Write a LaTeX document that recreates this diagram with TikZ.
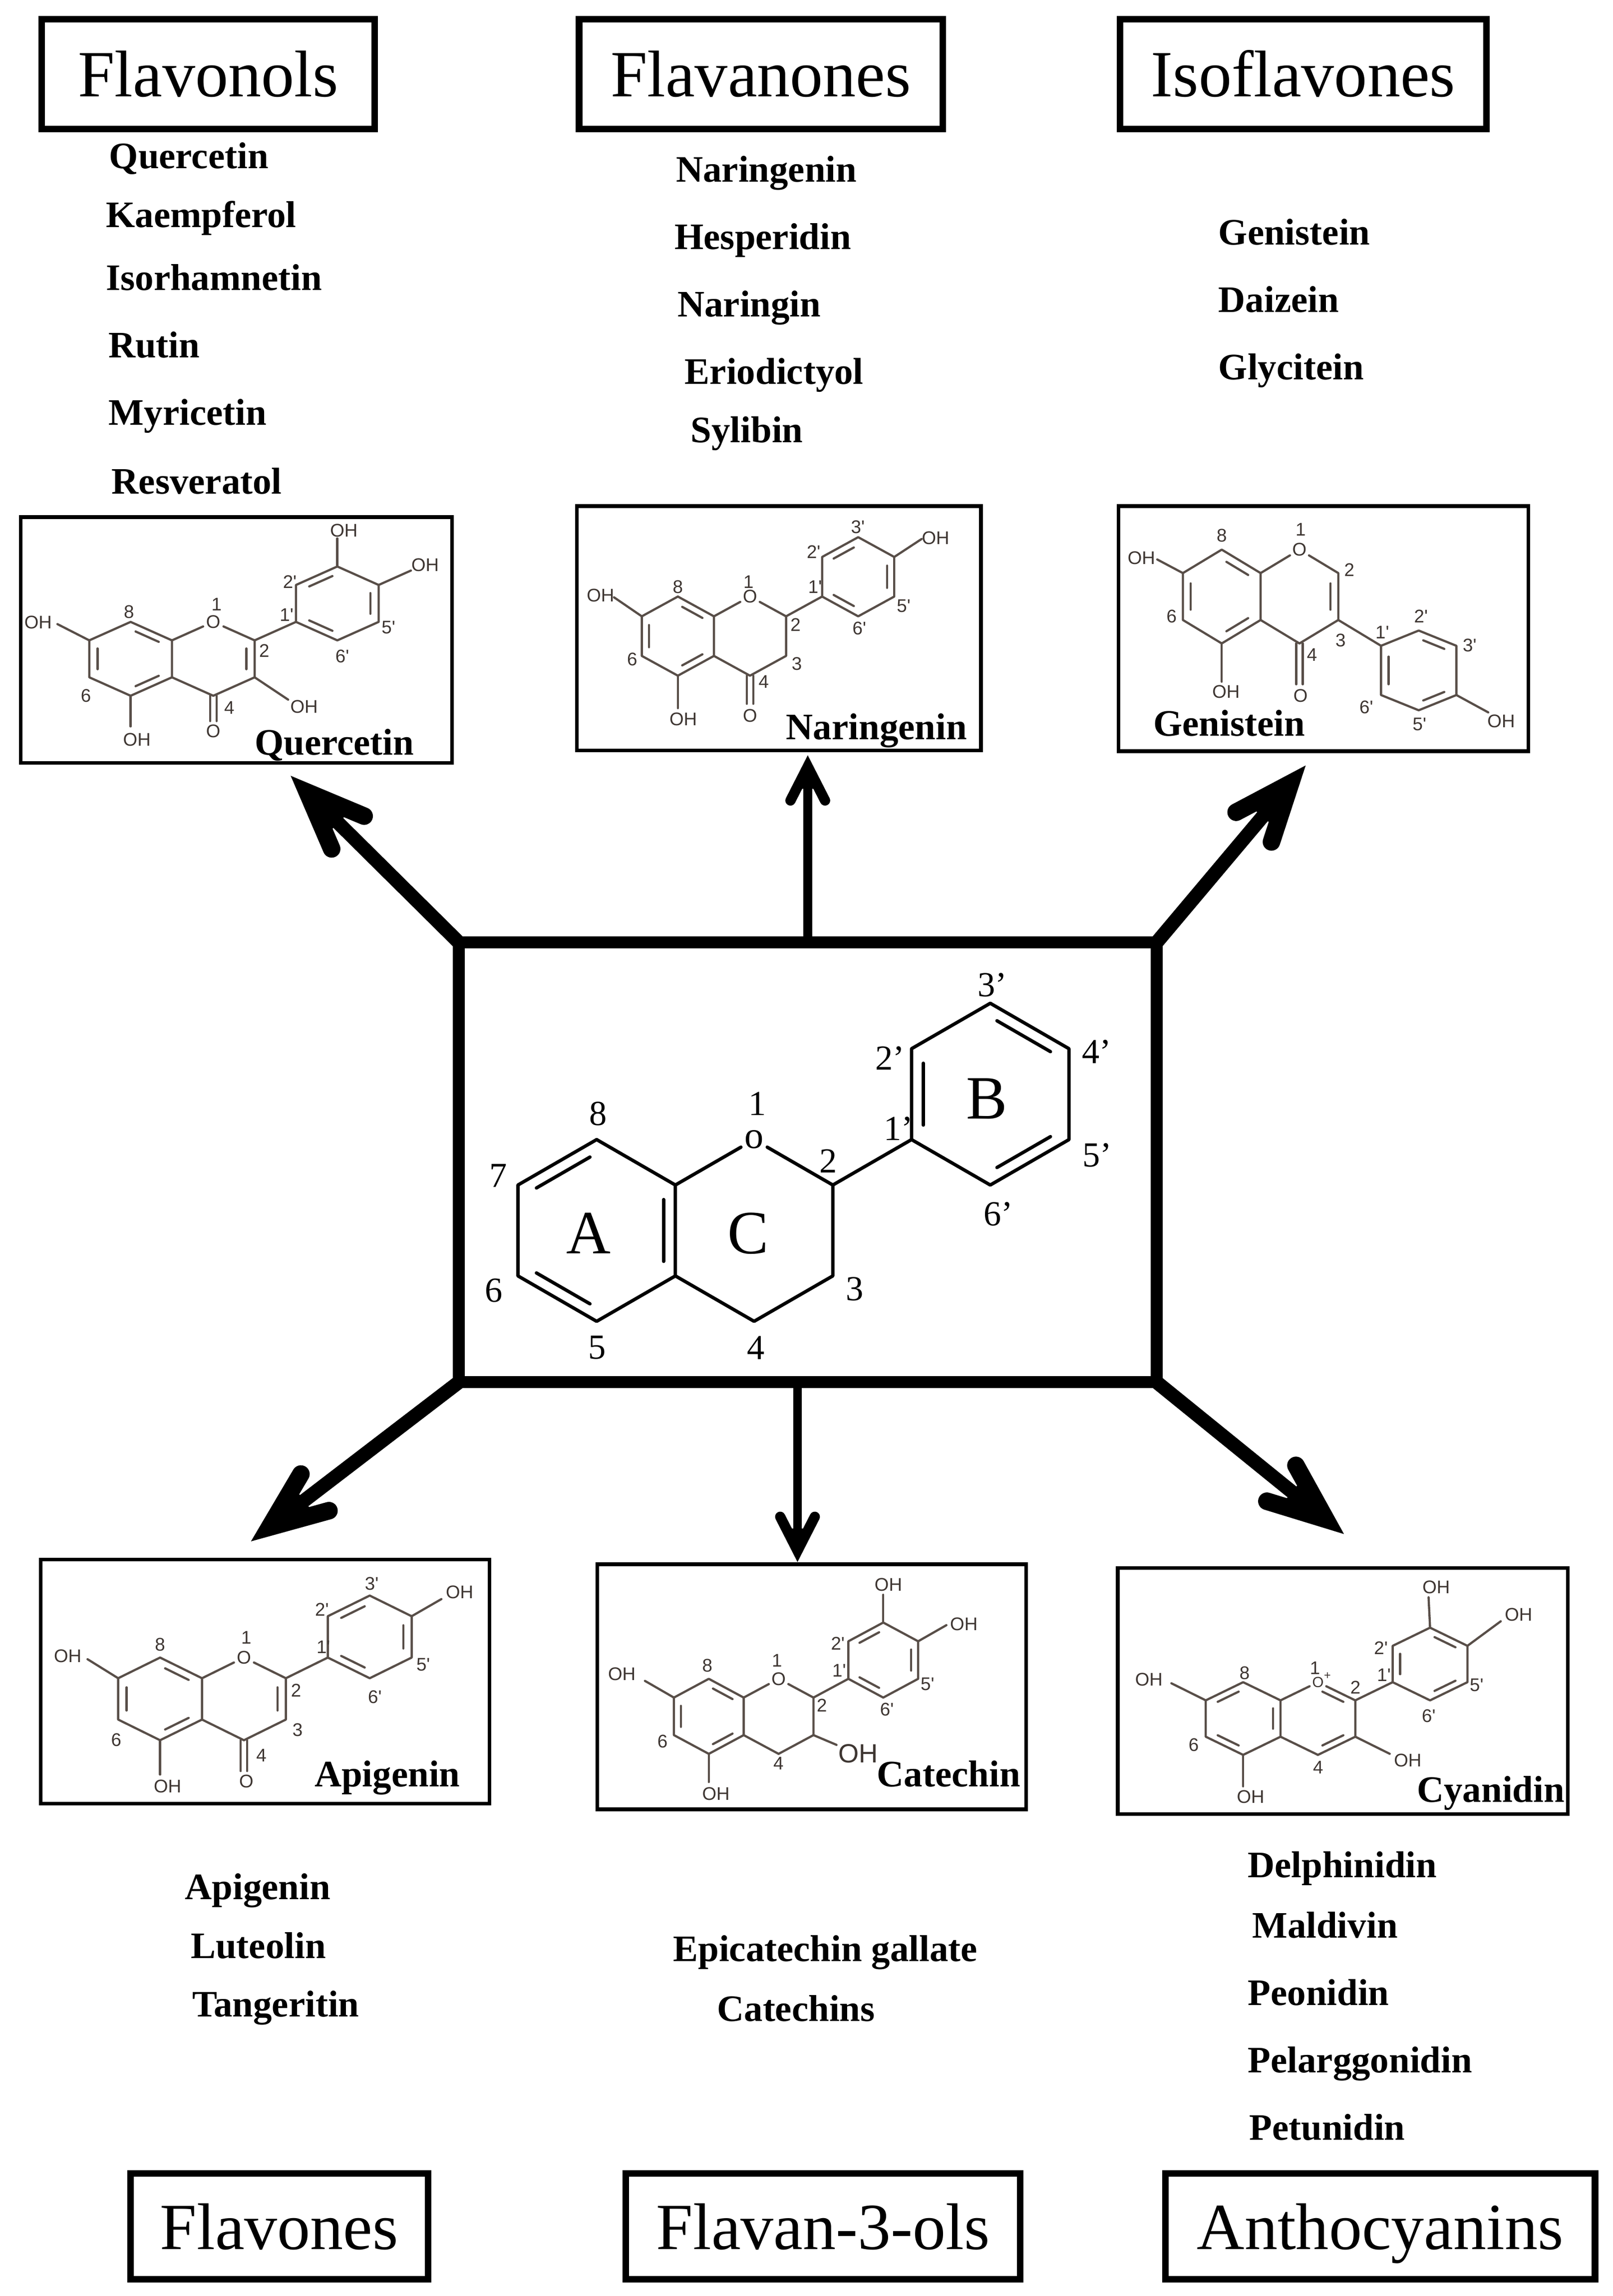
\documentclass[tikz,border=0pt]{standalone}
\usepackage{fontspec}
\setmainfont{Liberation Serif}
\newfontfamily\chemf{Liberation Sans}
\usetikzlibrary{calc}
\definecolor{bondcol}{RGB}{88,78,72}
\definecolor{labcol}{RGB}{62,54,50}

\newcommand{\skel}{%
 \coordinate (A8) at (0,-2); \coordinate (A8a) at (1,-1); \coordinate (A4a) at (1,1);
 \coordinate (A5) at (0,2); \coordinate (A6) at (-1,1); \coordinate (A7) at (-1,-1);
 \coordinate (O1) at (2,-2); \coordinate (C2) at (3,-1); \coordinate (C3) at (3,1);
 \coordinate (C4) at (2,2); \coordinate (cA) at (0,0); \coordinate (cC) at (2,0);}
\newcommand{\ringBup}{%
 \coordinate (B1) at (4,-2); \coordinate (B2) at (4,-4); \coordinate (B3) at (5,-5);
 \coordinate (B4) at (6,-4); \coordinate (B5) at (6,-2); \coordinate (B6) at (5,-1);
 \coordinate (cB) at (5,-3);}
\newcommand{\dbl}[3]{\draw[bond] ($0.68*(#1)+0.12*(#2)+0.2*(#3)$) -- ($0.12*(#1)+0.68*(#2)+0.2*(#3)$);}
\newcommand{\dblc}[3]{\draw[cbond] ($0.765*(#1)+0.085*(#2)+0.15*(#3)$) -- ($0.085*(#1)+0.765*(#2)+0.15*(#3)$);}
\newcommand{\lab}[4]{\node[lbl] (#1) at (#2,#3) {#4};}
\newcommand{\clab}[4]{\node[clbl] (#1) at (#2,#3) {#4};}
% tail, tip, shaft lw, barb lw, setback, barb length, half angle, fill length
\newcommand{\fatarrow}[8]{%
 \coordinate (aP) at ($(#2)!#5pt!(#1)$);
 \draw[line width=#3pt, line cap=butt] (#1) -- (aP);
 \fill ($(aP)!#8pt!#7:(#1)$) -- (aP) -- ($(aP)!#8pt!-#7:(#1)$) -- cycle;
 \draw[line width=#4pt, line cap=round, line join=miter] ($(aP)!#6pt!#7:(#1)$) -- (aP) -- ($(aP)!#6pt!-#7:(#1)$);}

\begin{document}
\begin{tikzpicture}[x=1pt,y=-1pt,
 bond/.style={draw=bondcol, line width=1.5pt, line cap=round, line join=round},
 cbond/.style={draw=black, line width=2.3pt, line cap=round, line join=round},
 atom/.style={font=\chemf\fontsize{12.5}{14}\selectfont, text=labcol, inner sep=0.6pt, circle},
 lbl/.style={font=\chemf\fontsize{12.5}{14}\selectfont, text=labcol, inner sep=0pt},
 lblbig/.style={font=\chemf\fontsize{18}{20}\selectfont, text=labcol, inner sep=0pt},
 clbl/.style={font=\fontsize{24}{26}\selectfont, inner sep=0pt},
 ringlet/.style={font=\fontsize{42}{44}\selectfont, inner sep=0pt},
 titlebox/.style={draw, line width=4.5pt, inner sep=0pt, outer sep=0pt, font=\fontsize{45}{50}\selectfont, text height=31pt, text depth=0pt, minimum height=75pt},
 molbox/.style={draw, line width=2.5pt, inner sep=0pt, outer sep=0pt},
 item/.style={font=\bfseries\fontsize{25.5}{30}\selectfont, anchor=base west, inner sep=0pt},
]
\useasboundingbox (0,0) rectangle (1100,1566.5);
\fill[white] (0,0) rectangle (1100,1566.5);

% ---------- title boxes ----------
\node[titlebox, minimum width=227pt] (tFlavonols) at (142,50.5) {Flavonols};
\node[titlebox, minimum width=248pt] (tFlavanones) at (519,50.5) {Flavanones};
\node[titlebox, minimum width=250pt] (tIsoflavones) at (889,50.5) {Isoflavones};
\node[titlebox, minimum width=203pt, minimum height=72pt] (tFlavones) at (190.5,1519) {Flavones};
\node[titlebox, minimum width=269pt, minimum height=72pt] (tFlavanols) at (561.5,1519) {Flavan-3-ols};
\node[titlebox, minimum width=293pt, minimum height=72pt] (tAntho) at (941.5,1519) {Anthocyanins};

% ---------- lists ----------
\node[item] (l11) at (74.3,115) {Quercetin};
\node[item] (l12) at (72.1,155) {Kaempferol};
\node[item] (l13) at (72.1,198) {Isorhamnetin};
\node[item] (l14) at (73.8,244) {Rutin};
\node[item] (l15) at (74,290) {Myricetin};
\node[item] (l16) at (76,337) {Resveratol};

\node[item] (l21) at (461,124) {Naringenin};
\node[item] (l22) at (460,170) {Hesperidin};
\node[item] (l23) at (462,216) {Naringin};
\node[item] (l24) at (467,262) {Eriodictyol};
\node[item] (l25) at (471,302) {Sylibin};

\node[item] (l31) at (831,167) {Genistein};
\node[item] (l32) at (831,213) {Daizein};
\node[item] (l33) at (831,259) {Glycitein};

\node[item] (l41) at (126,1296) {Apigenin};
\node[item] (l42) at (130,1336) {Luteolin};
\node[item] (l43) at (131,1376) {Tangeritin};

\node[item] (l51) at (459,1338) {Epicatechin gallate};
\node[item] (l52) at (489,1379) {Catechins};

\node[item] (l61) at (851,1281) {Delphinidin};
\node[item] (l62) at (854,1322) {Maldivin};
\node[item] (l63) at (851,1368) {Peonidin};
\node[item] (l64) at (851,1414) {Pelarggonidin};
\node[item] (l65) at (852,1460) {Petunidin};

% ---------- molecule boxes ----------
\node[molbox, minimum width=294.1pt, minimum height=167.8pt] (bQ) at (161.25,436.7) {};
\node[molbox, minimum width=275.7pt, minimum height=166.7pt] (bN) at (531.35,428.65) {};
\node[molbox, minimum width=279.5pt, minimum height=167.2pt] (bG) at (902.75,428.9) {};
\node[molbox, minimum width=306.2pt, minimum height=166.5pt] (bA) at (180.9,1147.25) {};
\node[molbox, minimum width=292.5pt, minimum height=167.2pt] (bC) at (553.75,1150.9) {};
\node[molbox, minimum width=307pt, minimum height=168pt] (bY) at (916,1153.8) {};

% ---------- central box ----------
\node[draw, line width=8pt, outer sep=0pt, inner sep=0pt, minimum width=476pt, minimum height=300pt] (core) at (551,793) {};

% ---------- Quercetin ----------
\begin{scope}[shift={(89.1,449.5)}, x={(28.2pt,0pt)}, y={(0pt,-12.6pt)}]
 \skel\ringBup
 \node[atom] (qO) at (O1) {O};
 \coordinate (Oe) at (2,3.37);
 \draw[bond] (A8) -- (A8a) -- (A4a) -- (A5) -- (A6) -- (A7) -- cycle;
 \draw[bond] (A8a) -- (qO) -- (C2) -- (C3) -- (C4) -- (A4a);
 \draw[bond] (C2) -- (B1);
 \draw[bond] (B1) -- (B2) -- (B3) -- (B4) -- (B5) -- (B6) -- cycle;
 \dbl{A8}{A8a}{cA} \dbl{A6}{A7}{cA} \dbl{A5}{A4a}{cA}
 \dbl{C2}{C3}{cC}
 \dbl{B2}{B3}{cB} \dbl{B4}{B5}{cB} \dbl{B6}{B1}{cB}
 \draw[bond] (A7) -- (-1.77,-1.88);
 \draw[bond] (A5) -- (0,3.66);
 \draw[bond] ([xshift=-2.2pt]C4) -- ([xshift=-2.2pt]Oe);
 \draw[bond] ([xshift=2.2pt]C4) -- ([xshift=2.2pt]Oe);
 \draw[bond] (C3) -- (3.81,2.21);
 \draw[bond] (B3) -- (5,-6.52);
 \draw[bond] (B4) -- (6.78,-4.78);
\end{scope}
\lab{qoh7}{26}{424.5}{OH}
\lab{qoh5}{93.4}{504.8}{OH}
\lab{qoh3}{207.4}{482.3}{OH}
\lab{qoh3b}{234.6}{361.9}{OH}
\lab{qoh4b}{290}{385.6}{OH}
\lab{qo4}{145.5}{498.7}{O}
\lab{qn8}{88}{417.3}{8}
\lab{qn1}{147.7}{412.4}{1}
\lab{qn2}{180.3}{444}{2}
\lab{qn1b}{195.5}{419.6}{1'}
\lab{qn2b}{197.7}{397.1}{2'}
\lab{qn5b}{265}{428.2}{5'}
\lab{qn6b}{233.5}{447.6}{6'}
\lab{qn6}{58.6}{474.5}{6}
\lab{qn4}{156.4}{483}{4}
\node[item] (qname) at (173.6,515) {Quercetin};

% ---------- Naringenin ----------
\begin{scope}[shift={(462.4,434)}, x={(24.6pt,0pt)}, y={(0pt,-13.5pt)}]
 \skel\ringBup
 \node[atom] (nO) at (O1) {O};
 \coordinate (Oe) at (2,3.42);
 \draw[bond] (A8) -- (A8a) -- (A4a) -- (A5) -- (A6) -- (A7) -- cycle;
 \draw[bond] (A8a) -- (nO) -- (C2) -- (C3) -- (C4) -- (A4a);
 \draw[bond] (C2) -- (B1);
 \draw[bond] (B1) -- (B2) -- (B3) -- (B4) -- (B5) -- (B6) -- cycle;
 \dbl{A8}{A8a}{cA} \dbl{A6}{A7}{cA} \dbl{A5}{A4a}{cA}
 \dbl{B2}{B3}{cB} \dbl{B4}{B5}{cB} \dbl{B6}{B1}{cB}
 \draw[bond] (A7) -- (-1.77,-1.96);
 \draw[bond] (A5) -- (0,3.64);
 \draw[bond] ([xshift=-2.2pt]C4) -- ([xshift=-2.2pt]Oe);
 \draw[bond] ([xshift=2.2pt]C4) -- ([xshift=2.2pt]Oe);
 \draw[bond] (B4) -- (6.76,-4.91);
\end{scope}
\lab{noh7}{409.6}{406.3}{OH}
\lab{noh5}{466.1}{490.8}{OH}
\lab{noh4b}{638.2}{367.1}{OH}
\lab{no4}{511.6}{488.4}{O}
\lab{nn8}{462.4}{400.5}{8}
\lab{nn1}{510.6}{397}{1}
\lab{nn2}{542.7}{426.3}{2}
\lab{nn3}{543.5}{452.7}{3}
\lab{nn4}{521}{465}{4}
\lab{nn6}{431.2}{449.8}{6}
\lab{nn1b}{556}{400.5}{1'}
\lab{nn2b}{555}{376.5}{2'}
\lab{nn3b}{585.2}{359.5}{3'}
\lab{nn5b}{616.4}{413.4}{5'}
\lab{nn6b}{586.2}{428.7}{6'}
\node[item] (nname) at (536.1,504.5) {Naringenin};

% ---------- Genistein ----------
\begin{scope}[shift={(833.4,407)}, x={(26.5pt,0pt)}, y={(0pt,-16pt)}]
 \skel
 \coordinate (B1) at (4.1,2.1); \coordinate (B2) at (5.07,1.45); \coordinate (B3) at (6.04,2.1);
 \coordinate (B4) at (6.04,4.2); \coordinate (B5) at (5.07,4.85); \coordinate (B6) at (4.1,4.2);
 \coordinate (cB) at (5.07,3.15);
 \node[atom] (gO) at (O1) {O};
 \coordinate (Oe) at (2,3.74);
 \draw[bond] (A8) -- (A8a) -- (A4a) -- (A5) -- (A6) -- (A7) -- cycle;
 \draw[bond] (A8a) -- (gO) -- (C2) -- (C3) -- (C4) -- (A4a);
 \draw[bond] (C3) -- (B1);
 \draw[bond] (B1) -- (B2) -- (B3) -- (B4) -- (B5) -- (B6) -- cycle;
 \dbl{A8}{A8a}{cA} \dbl{A6}{A7}{cA} \dbl{A5}{A4a}{cA}
 \dbl{C2}{C3}{cC}
 \dbl{B2}{B3}{cB} \dbl{B4}{B5}{cB} \dbl{B6}{B1}{cB}
 \draw[bond] (A7) -- (-1.66,-1.58);
 \draw[bond] (A5) -- (0,3.63);
 \draw[bond] ([xshift=-2.2pt]C4) -- ([xshift=-2.2pt]Oe);
 \draw[bond] ([xshift=2.2pt]C4) -- ([xshift=2.2pt]Oe);
 \draw[bond] (B4) -- (6.86,4.94);
\end{scope}
\lab{goh7}{778.6}{380.6}{OH}
\lab{goh5}{836.3}{472}{OH}
\lab{goh4b}{1024}{492}{OH}
\lab{go4}{887.2}{474.5}{O}
\lab{gn8}{833.4}{365.3}{8}
\lab{gn1}{887.2}{361.2}{1}
\lab{gn2}{920.4}{388.8}{2}
\lab{gn3}{914.5}{436.9}{3}
\lab{gn4}{895}{446.9}{4}
\lab{gn6}{799.2}{420.5}{6}
\lab{gn1b}{942.9}{431.4}{1'}
\lab{gn2b}{969.3}{420.6}{2'}
\lab{gn3b}{1002.5}{440.4}{3'}
\lab{gn5b}{968.3}{494.2}{5'}
\lab{gn6b}{932}{482.6}{6'}
\node[item] (gname) at (786.5,502) {Genistein};

% ---------- Apigenin ----------
\begin{scope}[shift={(109.2,1159.1)}, x={(28.6pt,0pt)}, y={(0pt,-14.1pt)}]
 \skel\ringBup
 \node[atom] (aO) at (O1) {O};
 \coordinate (Oe) at (2,3.49);
 \draw[bond] (A8) -- (A8a) -- (A4a) -- (A5) -- (A6) -- (A7) -- cycle;
 \draw[bond] (A8a) -- (aO) -- (C2) -- (C3) -- (C4) -- (A4a);
 \draw[bond] (C2) -- (B1);
 \draw[bond] (B1) -- (B2) -- (B3) -- (B4) -- (B5) -- (B6) -- cycle;
 \dbl{A8}{A8a}{cA} \dbl{A6}{A7}{cA} \dbl{A5}{A4a}{cA}
 \dbl{C2}{C3}{cC}
 \dbl{B2}{B3}{cB} \dbl{B4}{B5}{cB} \dbl{B6}{B1}{cB}
 \draw[bond] (A7) -- (-1.73,-1.92);
 \draw[bond] (A5) -- (0,3.66);
 \draw[bond] ([xshift=-2.2pt]C4) -- ([xshift=-2.2pt]Oe);
 \draw[bond] ([xshift=2.2pt]C4) -- ([xshift=2.2pt]Oe);
 \draw[bond] (B4) -- (6.71,-4.83);
\end{scope}
\lab{aoh7}{46.2}{1129.8}{OH}
\lab{aoh5}{114.3}{1218.9}{OH}
\lab{aoh4b}{313.5}{1086.3}{OH}
\lab{ao4}{168}{1215.4}{O}
\lab{an8}{109.2}{1122.1}{8}
\lab{an1}{168}{1117.4}{1}
\lab{an2}{202}{1153.2}{2}
\lab{an3}{203}{1180.2}{3}
\lab{an4}{178.3}{1197.8}{4}
\lab{an6}{79.3}{1187.2}{6}
\lab{an1b}{220.6}{1123.9}{1'}
\lab{an2b}{219.6}{1098.1}{2'}
\lab{an3b}{253.6}{1080.5}{3'}
\lab{an5b}{288.7}{1135.6}{5'}
\lab{an6b}{255.7}{1157.9}{6'}
\node[item] (aname) at (214.4,1219) {Apigenin};

% ---------- Catechin ----------
\begin{scope}[shift={(483.5,1171)}, x={(23.8pt,0pt)}, y={(0pt,-12.8pt)}]
 \skel\ringBup
 \node[atom] (cO) at (O1) {O};
 \draw[bond] (A8) -- (A8a) -- (A4a) -- (A5) -- (A6) -- (A7) -- cycle;
 \draw[bond] (A8a) -- (cO) -- (C2) -- (C3) -- (C4) -- (A4a);
 \draw[bond] (C2) -- (B1);
 \draw[bond] (B1) -- (B2) -- (B3) -- (B4) -- (B5) -- (B6) -- cycle;
 \dbl{A8}{A8a}{cA} \dbl{A6}{A7}{cA} \dbl{A5}{A4a}{cA}
 \dbl{B2}{B3}{cB} \dbl{B4}{B5}{cB} \dbl{B6}{B1}{cB}
 \draw[bond] (A7) -- (-1.83,-1.89);
 \draw[bond] (A5) -- (0,3.5);
 \draw[bond] (C3) -- (3.66,1.52);
 \draw[bond] (B3) -- (5,-6.48);
 \draw[bond] (B4) -- (6.81,-4.86);
\end{scope}
\lab{coh7}{424.2}{1142.1}{OH}
\lab{coh5}{488.4}{1223.9}{OH}
\node[lblbig] (coh3) at (585.3,1196.3) {OH};
\lab{coh3b}{606}{1081.1}{OH}
\lab{coh4b}{657.5}{1108.2}{OH}
\lab{cn8}{482.5}{1136.4}{8}
\lab{cn1}{530}{1132.9}{1}
\lab{cn2}{560.6}{1163.4}{2}
\lab{cn4}{531}{1203.2}{4}
\lab{cn6}{451.9}{1188.2}{6}
\lab{cn1b}{572.4}{1139.8}{1'}
\lab{cn2b}{571.5}{1121.4}{2'}
\lab{cn5b}{632.7}{1149}{5'}
\lab{cn6b}{605}{1166.3}{6'}
\node[item] (cname) at (598,1219) {Catechin};

% ---------- Cyanidin ----------
\begin{scope}[shift={(848,1172.5)}, x={(25.5pt,0pt)}, y={(0pt,-12.4pt)}]
 \skel\ringBup
 \node[atom, font=\chemf\fontsize{10}{11}\selectfont] (yO) at (O1) {O};
 \draw[bond] (A8) -- (A8a) -- (A4a) -- (A5) -- (A6) -- (A7) -- cycle;
 \draw[bond] (A8a) -- (yO) -- (C2) -- (C3) -- (C4) -- (A4a);
 \draw[bond] (C2) -- (B1);
 \draw[bond] (B1) -- (B2) -- (B3) -- (B4) -- (B5) -- (B6) -- cycle;
 \dbl{A7}{A8}{cA} \dbl{A8a}{A4a}{cA} \dbl{A5}{A6}{cA}
 \dbl{yO}{C2}{cC} \dbl{C3}{C4}{cC}
 \dbl{B1}{B2}{cB} \dbl{B3}{B4}{cB} \dbl{B5}{B6}{cB}
 \draw[bond] (A7) -- (-1.92,-1.94);
 \draw[bond] (A5) -- (0,3.73);
 \draw[bond] (C3) -- (3.92,1.94);
 \draw[bond] (B3) -- (4.96,-6.67);
 \draw[bond] (B4) -- (6.89,-5.35);
\end{scope}
\node[lbl, font=\chemf\fontsize{8}{9}\selectfont] (yplus) at (905.5,1143.5) {+};
\lab{yoh7}{783.7}{1146}{OH}
\lab{yoh5}{853.1}{1225.8}{OH}
\lab{yoh3}{960.3}{1201.2}{OH}
\lab{yoh3b}{979.7}{1082.7}{OH}
\lab{yoh4b}{1035.9}{1101.5}{OH}
\lab{yn8}{849}{1141.4}{8}
\lab{yn1}{897}{1138}{1}
\lab{yn2}{924.6}{1151.1}{2}
\lab{yn4}{899.1}{1205.9}{4}
\lab{yn6}{814.3}{1190.6}{6}
\lab{yn1b}{944}{1142.7}{1'}
\lab{yn2b}{942}{1124.3}{2'}
\lab{yn5b}{1007.3}{1149.6}{5'}
\lab{yn6b}{974.6}{1170.7}{6'}
\node[item] (yname) at (966.4,1229.5) {Cyanidin};

% ---------- central flavan skeleton ----------
\begin{scope}[shift={(407,839.5)}, x={(53.7pt,0pt)}, y={(0pt,-31pt)}]
 \skel\ringBup
 \node[circle, inner sep=0.8pt, font=\fontsize{26}{28}\selectfont] (mO) at (O1) {o};
 \draw[cbond] (A8) -- (A8a) -- (A4a) -- (A5) -- (A6) -- (A7) -- cycle;
 \draw[cbond] (A8a) -- (mO) -- (C2) -- (C3) -- (C4) -- (A4a);
 \draw[cbond] (C2) -- (B1);
 \draw[cbond] (B1) -- (B2) -- (B3) -- (B4) -- (B5) -- (B6) -- cycle;
 \dblc{A7}{A8}{cA} \dblc{A8a}{A4a}{cA} \dblc{A5}{A6}{cA}
 \dblc{B1}{B2}{cB} \dblc{B3}{B4}{cB} \dblc{B5}{B6}{cB}
\end{scope}
\clab{m8}{408}{760}{8}
\clab{m7}{340}{802}{7}
\clab{m6}{337}{880.5}{6}
\clab{m5}{407.2}{919.5}{5}
\clab{m4}{515.5}{919.5}{4}
\clab{m3}{583}{879.5}{3}
\clab{m2}{565}{792}{2}
\clab{m1}{516.5}{753}{1}
\clab{m1b}{613}{770}{1'}
\clab{m2b}{607}{722}{2'}
\clab{m3b}{677}{672}{3'}
\clab{m4b}{748}{717.5}{4'}
\clab{m5b}{748.5}{788}{5'}
\clab{m6b}{681}{828.5}{6'}
\node[ringlet] (rA) at (401.5,841.5) {A};
\node[ringlet] (rC) at (510.5,841.5) {C};
\node[ringlet] (rB) at (673,749.5) {B};

% ---------- arrows ----------
\coordinate (tipQ) at (199,530);
\coordinate (tipN) at (551,515);
\coordinate (tipG) at (890,523);
\coordinate (tipA) at (172,1051);
\coordinate (tipC) at (544,1066);
\coordinate (tipY) at (916,1046);
\coordinate (tailC) at ([xshift=-7pt]core.south);
\fatarrow{core.north west}{tipQ}{9.5}{12}{15}{42}{22}{32}
\fatarrow{core.north east}{tipG}{9.5}{12}{15}{42}{22}{32}
\fatarrow{core.south west}{tipA}{9.5}{12}{15}{42}{22}{32}
\fatarrow{core.south east}{tipY}{9.5}{12}{15}{42}{22}{32}
\fatarrow{core.north}{tipN}{6}{7}{8}{26}{27}{17}
\fatarrow{tailC}{tipC}{6}{7}{8}{26}{27}{17}
\end{tikzpicture}
\end{document}
